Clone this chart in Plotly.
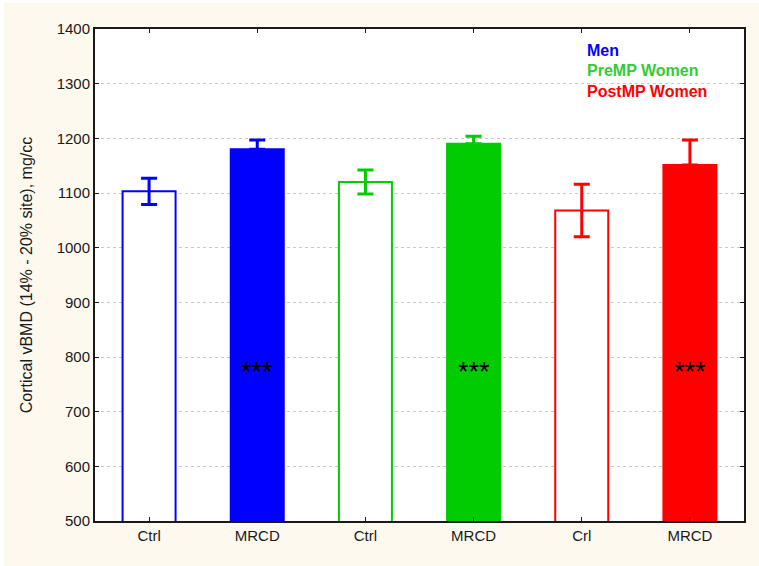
import plotly.graph_objects as go

labels = ["Ctrl", "MRCD", "Ctrl", "MRCD", "Crl", "MRCD"]
means = [1103, 1180, 1120, 1190, 1068, 1151]
errors = [24, 17, 22, 14, 48, 46]
colors = ["#0000FF", "#0000FF", "#00CC00", "#00CC00", "#FF0000", "#FF0000"]
filled = [False, True, False, True, False, True]
groups = ["Men", "PreMP Women", "PostMP Women"]
group_colors = ["#0000FF", "#33CC33", "#FF0000"]
sig_y = 782

W, H = 755, 563
fig = go.Figure()
for i, (m, e, c, f) in enumerate(zip(means, errors, colors, filled)):
    fig.add_trace(go.Bar(
        x=[i], y=[m], width=0.49,
        marker=dict(color=c if f else "white", line=dict(color=c, width=2)),
        error_y=dict(type="data", array=[e], arrayminus=[0 if f else e],
                     color=c, thickness=3, width=8),
        showlegend=False, hoverinfo="skip",
    ))
    if f:
        fig.add_annotation(x=i, y=sig_y, text="***", showarrow=False, yshift=-5,
                           font=dict(family="Arial", size=27, color="black"))

leg_top = 50.3
for k, (g, gc) in enumerate(zip(groups, group_colors)):
    ypix = leg_top + k * 20.7 - 3  # page px -> figure px
    fig.add_annotation(xref="paper", yref="paper",
                       x=(585 - 4 - 91) / (W - 91 - 15),
                       y=1 - (ypix - 26) / (H - 26 - 45),
                       text="<b>%s</b>" % g, showarrow=False, xanchor="left",
                       yanchor="middle", font=dict(family="Arial", size=16, color=gc))

fig.update_layout(
    width=W, height=H,
    margin=dict(l=91, r=15, t=26, b=45),
    paper_bgcolor="#FDF9EE", plot_bgcolor="white",
    font=dict(family="Arial", size=15, color="#1a1a1a"),
)
fig.update_xaxes(
    range=[-0.5, 5.5], tickmode="array", tickvals=list(range(6)), ticktext=labels,
    showgrid=False, showline=True, linecolor="#1a1a1a", linewidth=2, mirror="ticks",
    ticks="inside", ticklen=4, tickcolor="#1a1a1a", zeroline=False,
    tickfont=dict(size=15),
)
fig.update_yaxes(
    range=[500, 1400], dtick=100, tick0=500,
    showgrid=True, gridcolor="#C8C8C8", griddash="dot", gridwidth=1,
    showline=True, linecolor="#1a1a1a", linewidth=2, mirror="ticks",
    ticks="inside", ticklen=4, tickcolor="#1a1a1a", zeroline=False,
    tickfont=dict(size=15),
    title=dict(text="Cortical vBMD (14% - 20% site), mg/cc", font=dict(size=16), standoff=20),
)
fig.write_html("out.html", post_script="document.body.style.margin='3px 0 0 4px';")
